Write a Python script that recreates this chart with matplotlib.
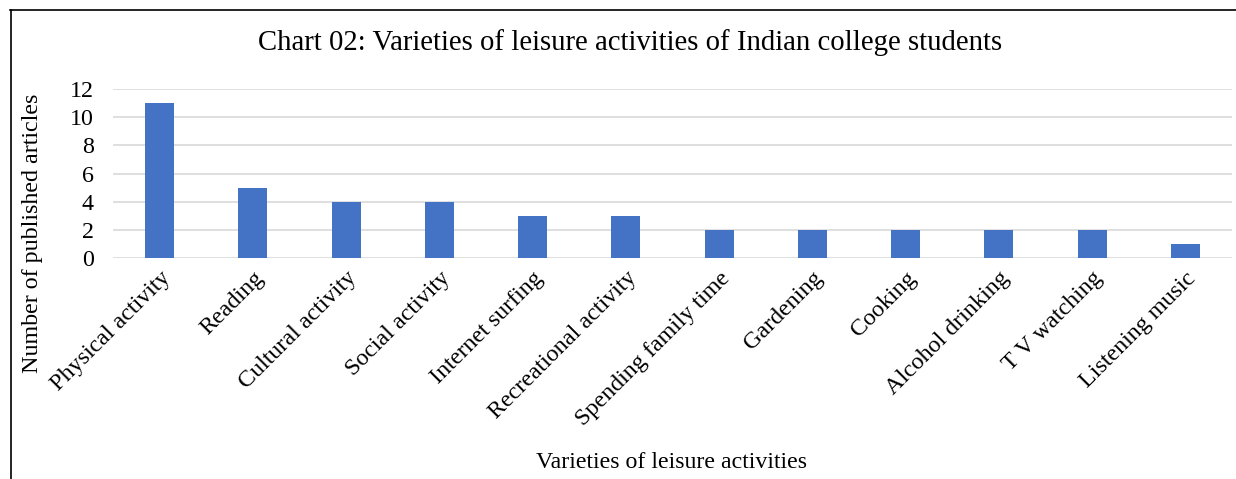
import matplotlib
matplotlib.use("Agg")
import matplotlib.pyplot as plt

categories = ["Physical activity", "Reading", "Cultural activity", "Social activity",
              "Internet surfing", "Recreational activity", "Spending family time",
              "Gardening", "Cooking", "Alcohol drinking", "T V watching", "Listening music"]
articles = [11, 5, 4, 4, 3, 3, 2, 2, 2, 2, 2, 1]
yticks = [0, 2, 4, 6, 8, 10, 12]

plt.rcParams["font.family"] = ["Liberation Serif", "DejaVu Serif"]

fig = plt.figure(figsize=(12.36, 4.79), dpi=100)
ax = fig.add_axes([113 / 1236, 1 - 258 / 479, (1232 - 113) / 1236, (258 - 89) / 479])

x = list(range(len(categories)))
ax.bar(x, articles, width=0.31, color="#4472C4", zorder=3)
ax.set_xlim(-0.5, len(categories) - 0.5)
ax.set_ylim(0, 12)
ax.set_yticks(yticks)
ax.set_xticks(x)
ax.set_xticklabels(categories, rotation=45, ha="right", rotation_mode="anchor", fontsize=17.3)
ax.tick_params(axis="y", labelsize=17.3, length=0, pad=14)
ax.tick_params(axis="x", length=0, pad=7)
ax.grid(axis="y", color="#d9d9d9", linewidth=1.2, zorder=0)
for s in ax.spines.values():
    s.set_visible(False)

fig.text(630 / 1236, 1 - 43 / 479, "Chart 02: Varieties of leisure activities of Indian college students",
         ha="center", va="center", fontsize=20.7)
fig.text(672 / 1236, 1 - 462 / 479, "Varieties of leisure activities",
         ha="center", va="center", fontsize=17.2)
fig.text(33 / 1236, 1 - 233 / 479, "Number of published articles",
         ha="center", va="center", rotation=90, fontsize=17.3)

# frame around the chart (left and top edges visible in the source)
fig.add_artist(plt.Line2D([10.5 / 1236, 10.5 / 1236], [0, 1 - 10 / 479], color="black", linewidth=1.2))
fig.add_artist(plt.Line2D([10 / 1236, 1], [1 - 10 / 479, 1 - 10 / 479], color="black", linewidth=1.2))

fig.savefig("out.png", dpi=100)
